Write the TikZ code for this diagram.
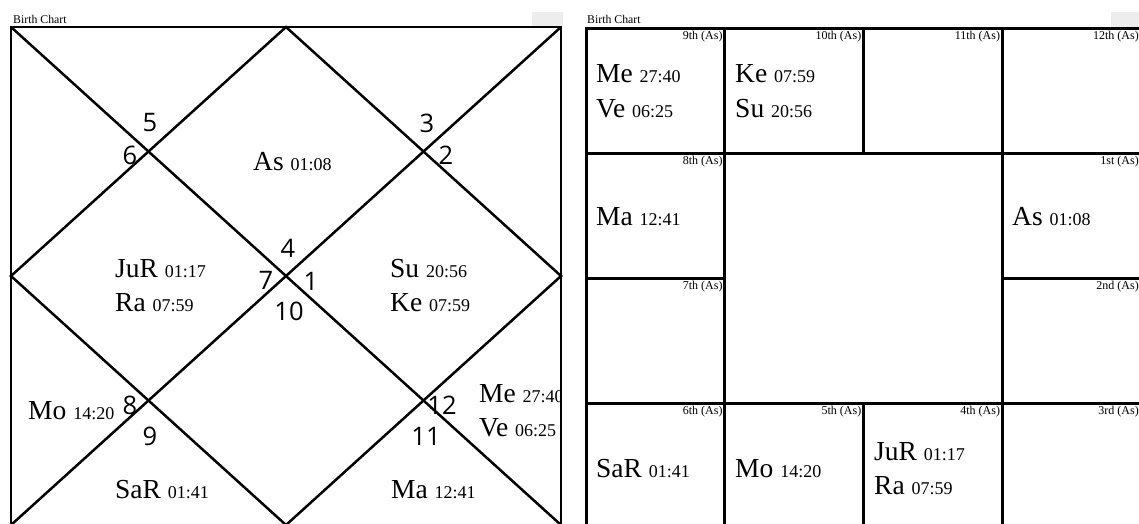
\documentclass[tikz,border=0pt]{standalone}
\usepackage{fontspec}
\setmainfont{Liberation Serif}
\newfontfamily\numfont{Open Sans}
\usetikzlibrary{calc}
\newcommand{\grahasize}{\fontsize{27.5}{33}\selectfont}
\newcommand{\degsize}{\fontsize{18}{20}\selectfont}
\newcommand{\graha}[2]{#1 {\degsize #2}}
\tikzset{
  chartline/.style={line width=2.5pt},
  gridline/.style={line width=3pt},
  planet/.style={anchor=base west,inner sep=0pt,font=\grahasize},
  housenum/.style={inner sep=0pt,font=\numfont\fontsize{25.5}{25}\selectfont},
  houselabel/.style={anchor=north east,inner sep=0pt,font=\fontsize{12}{12}\selectfont},
  charttitle/.style={anchor=base west,inner sep=0pt,font=\fontsize{11.8}{12}\selectfont},
  tab/.style={fill=black!7}
}

\begin{document}
\begin{tikzpicture}[x=1pt,y=-1pt]
  \useasboundingbox (0,0) rectangle (1139,523);
  % north style chart
  \node[charttitle] (titleN) at (13,23) {Birth Chart};
  \fill[tab] (532,12) rectangle (563,27);
  \coordinate (NW) at (11,27);
  \coordinate (NE) at (561,27);
  \coordinate (SE) at (561,525);
  \coordinate (SW) at (11,525);
  \draw[chartline] (NW) rectangle (SE);
  \draw[chartline] (NW) -- (SE) (NE) -- (SW);
  \draw[chartline] ($(NW)!.5!(NE)$) -- ($(NE)!.5!(SE)$) -- ($(SE)!.5!(SW)$)
        -- ($(SW)!.5!(NW)$) -- cycle;
  % house numbers
  \foreach \n/\x/\y in {5/150/123, 6/130/155, 3/427/123, 2/446/155,
                        4/288/248, 7/266/280, 1/311/281, 10/289/311,
                        8/130/405, 9/150/436, 12/442/405, 11/426/436}{
    \node[housenum] (h\n) at (\x,\y) {\n};
  }
  % planets
  \begin{scope}
    \clip (NW) rectangle (SE);
    \node[planet] (nAs)  at (253,170) {\graha{As}{01:08}};
    \node[planet] (nJuR) at (115,277) {\graha{JuR}{01:17}};
    \node[planet] (nRa)  at (115,311) {\graha{Ra}{07:59}};
    \node[planet] (nSu)  at (390,277) {\graha{Su}{20:56}};
    \node[planet] (nKe)  at (390,311) {\graha{Ke}{07:59}};
    \node[planet] (nMo)  at (28,419)  {\graha{Mo}{14:20}};
    \node[planet] (nMe)  at (479,402) {\graha{Me}{27:40}};
    \node[planet] (nVe)  at (479,436) {\graha{Ve}{06:25}};
    \node[planet] (nSaR) at (115,498) {\graha{SaR}{01:41}};
    \node[planet] (nMa)  at (391,498) {\graha{Ma}{12:41}};
  \end{scope}

  % south style chart
  \node[charttitle] (titleS) at (587,23) {Birth Chart};
  \fill[tab] (1111,12) rectangle (1139,27);
  \draw[gridline] (586,28) rectangle (1141,528);
  \draw[gridline] (586,153) -- (1141,153) (586,403) -- (1141,403);
  \draw[gridline] (724.75,28) -- (724.75,528) (1002.25,28) -- (1002.25,528);
  \draw[gridline] (863.5,28) -- (863.5,153) (863.5,403) -- (863.5,528);
  \draw[gridline] (586,278) -- (724.75,278) (1002.25,278) -- (1141,278);
  % house labels
  \foreach \c/\r/\t in {0/0/9th, 1/0/10th, 2/0/11th, 3/0/12th, 3/1/1st, 3/2/2nd,
                        3/3/3rd, 2/3/4th, 1/3/5th, 0/3/6th, 0/2/7th, 0/1/8th}{
    \node[houselabel] (b\t) at ({586+138.75*(\c+1)-2},{28+125*\r+3}) {\t{} (As)};
  }
  % planets
  \node[planet] (sMe)  at (596,82)  {\graha{Me}{27:40}};
  \node[planet] (sVe)  at (596,117) {\graha{Ve}{06:25}};
  \node[planet] (sKe)  at (735,82)  {\graha{Ke}{07:59}};
  \node[planet] (sSu)  at (735,117) {\graha{Su}{20:56}};
  \node[planet] (sMa)  at (596,225) {\graha{Ma}{12:41}};
  \node[planet] (sAs)  at (1012,225) {\graha{As}{01:08}};
  \node[planet] (sSaR) at (596,477) {\graha{SaR}{01:41}};
  \node[planet] (sMo)  at (735,477) {\graha{Mo}{14:20}};
  \node[planet] (sJuR) at (874,460) {\graha{JuR}{01:17}};
  \node[planet] (sRa)  at (874,494) {\graha{Ra}{07:59}};
\end{tikzpicture}
\end{document}
